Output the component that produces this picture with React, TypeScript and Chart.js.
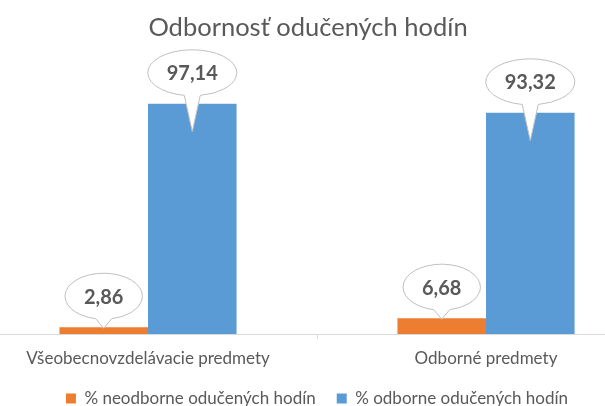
import React, { useEffect, useRef } from "react";
import { Chart, registerables } from "chart.js";

Chart.register(...registerables);

const categories = ["Všeobecnovzdelávacie predmety", "Odborné predmety"];
const seriesLabels = ["% neodborne odučených hodín", "% odborne odučených hodín"];
const neodborne = [2.86, 6.68];
const odborne = [97.14, 93.32];
const titleText = "Odbornosť odučených hodín";

const FONT = "Lato, 'Open Sans', sans-serif";
const TEXT = "#595959";

const calloutPlugin = {
  id: "callouts",
  afterDatasetsDraw(chart: any) {
    const ctx = chart.ctx;
    chart.data.datasets.forEach((ds: any, di: number) => {
      const meta = chart.getDatasetMeta(di);
      meta.data.forEach((bar: any, i: number) => {
        const { x, y, base } = bar.getProps(["x", "y", "base"], true);
        const v = ds.data[i] as number;
        const text = v.toFixed(2).replace(".", ",");
        ctx.save();
        ctx.font = `bold 20px ${FONT}`;
        const tw = ctx.measureText(text).width;
        const rx = tw / 2 + 19;
        const ry = 23;
        const cy = y - 31;
        const tipY = base - y > 50 ? y + 28 : y + 1;
        const hw = 8;
        const d = Math.asin(hw / rx);
        ctx.beginPath();
        ctx.ellipse(x, cy, rx, ry, 0, Math.PI / 2 + d, Math.PI / 2 - d + 2 * Math.PI);
        ctx.lineTo(x, tipY);
        ctx.closePath();
        ctx.fillStyle = "#ffffff";
        ctx.fill();
        ctx.strokeStyle = "#BFBFBF";
        ctx.lineWidth = 1;
        ctx.stroke();
        ctx.fillStyle = TEXT;
        ctx.textAlign = "center";
        ctx.textBaseline = "middle";
        ctx.fillText(text, x, cy + 1);
        ctx.restore();
      });
    });
  },
};

export default function App() {
  const ref = useRef<HTMLCanvasElement | null>(null);
  useEffect(() => {
    if (!ref.current) return;
    const chart = new Chart(ref.current, {
      type: "bar",
      data: {
        labels: categories,
        datasets: [
          {
            label: seriesLabels[0],
            data: neodborne,
            backgroundColor: "#ED7D31",
            borderWidth: 0,
            categoryPercentage: 0.524,
            barPercentage: 1,
          },
          {
            label: seriesLabels[1],
            data: odborne,
            backgroundColor: "#5B9BD5",
            borderWidth: 0,
            categoryPercentage: 0.524,
            barPercentage: 1,
          },
        ],
      },
      options: {
        responsive: false,
        animation: false,
        devicePixelRatio: 1,
        layout: { padding: 0 },
        plugins: {
          title: {
            display: true,
            text: titleText,
            color: TEXT,
            font: { family: FONT, size: 25.5, weight: "normal" },
            padding: { top: 12, bottom: 54.4 },
          },
          legend: {
            display: true,
            position: "bottom",
            fullSize: false,
            labels: {
              color: TEXT,
              font: { family: FONT, size: 17 },
              boxWidth: 10,
              boxHeight: 10,
              padding: 21,
            },
          },
          tooltip: { enabled: false },
        },
        scales: {
          x: {
            grid: {
              display: true,
              drawOnChartArea: false,
              drawTicks: true,
              tickLength: 5,
              color: "#D9D9D9",
            },
            border: { display: true, color: "#D9D9D9", width: 1 },
            ticks: {
              color: TEXT,
              font: { family: FONT, size: 17 },
              padding: 9,
              maxRotation: 0,
            },
            afterFit: (scale: any) => {
              scale.height = 35;
            },
          },
          y: {
            display: true,
            min: 0,
            max: 100,
            grid: { display: false },
            border: { display: false },
            ticks: { display: false },
            afterFit: (scale: any) => {
              scale.width = 18;
            },
          },
        },
      },
      plugins: [calloutPlugin],
    });
    return () => chart.destroy();
  }, []);

  return (
    <div
      style={{
        position: "fixed",
        left: 0,
        top: 0,
        width: 605,
        height: 406,
        overflow: "hidden",
        background: "#ffffff",
      }}
    >
      <canvas
        ref={ref}
        width={694}
        height={417}
        style={{ position: "absolute", left: -39, top: 0, width: 694, height: 417 }}
      />
    </div>
  );
}
